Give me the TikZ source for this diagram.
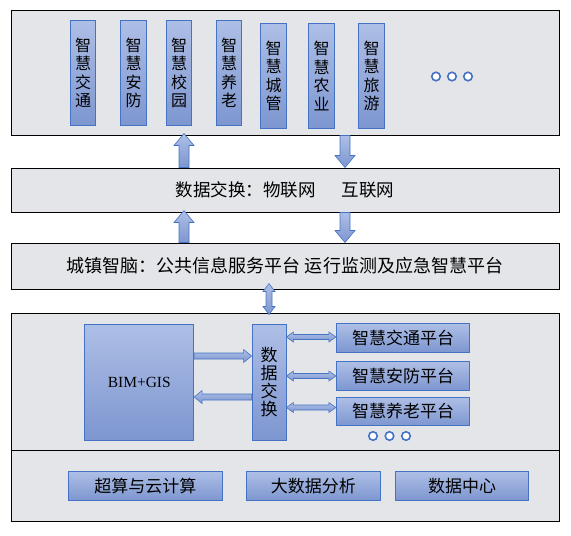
\documentclass[tikz,border=0pt]{standalone}
\usepackage{fontspec}
\setmainfont{Noto Sans CJK SC}
\newfontfamily\bimfont{Liberation Serif}
\usetikzlibrary{calc,positioning}
\definecolor{bluetop}{HTML}{AEBFE6}
\definecolor{bluebot}{HTML}{7D96D0}
\definecolor{blueline}{HTML}{4472C4}
\definecolor{framegray}{HTML}{E3E5E9}

% block arrow: tail, tip, half shaft, half head, head length
\newcommand\blkarrow[5]{%
  \coordinate (at) at (#1);
  \coordinate (bt) at (#2);
  \coordinate (hb) at ($(bt)!#5!(at)$);
  \draw[blkarr] ($(at)!#3!90:(bt)$) -- ($(hb)!#3!90:(bt)$) -- ($(hb)!#4!90:(bt)$)
    -- (bt) -- ($(hb)!#4!-90:(bt)$) -- ($(hb)!#3!-90:(bt)$) -- ($(at)!#3!-90:(bt)$) -- cycle;}
% block arrow with a head at both ends
\newcommand\blkdarrow[5]{%
  \coordinate (at) at (#1);
  \coordinate (bt) at (#2);
  \coordinate (ha) at ($(at)!#5!(bt)$);
  \coordinate (hb) at ($(bt)!#5!(at)$);
  \draw[blkarr] (at) -- ($(ha)!#4!90:(bt)$) -- ($(ha)!#3!90:(bt)$) -- ($(hb)!#3!90:(bt)$)
    -- ($(hb)!#4!90:(bt)$) -- (bt) -- ($(hb)!#4!-90:(bt)$) -- ($(hb)!#3!-90:(bt)$)
    -- ($(ha)!#3!-90:(bt)$) -- ($(ha)!#4!-90:(bt)$) -- cycle;}

\begin{document}
\begin{tikzpicture}[x=1pt, y=-1pt,
  frame/.style={draw=black, line width=1pt, fill=framegray, inner sep=0pt, minimum width=548pt},
  bluebox/.style={draw=blueline, line width=0.8pt, top color=bluetop, bottom color=bluebot, inner sep=0pt},
  appbox/.style={bluebox, minimum width=25.5pt, minimum height=105.5pt, align=center,
    font=\fontsize{16}{18.5}\selectfont},
  platbox/.style={bluebox, minimum width=133.5pt, minimum height=28.5pt, font=\fontsize{17}{20}\selectfont},
  basebox/.style={bluebox, minimum height=29pt, font=\fontsize{17}{20}\selectfont},
  moredot/.style={circle, draw=blueline, line width=1.6pt, fill=white, minimum size=8.5pt, inner sep=0pt},
  blkarr/.style={draw=blueline, line width=0.6pt, top color=bluetop, bottom color=bluebot}]
  \useasboundingbox (0,0) rectangle (571,536);

  % layers
  \node[frame, minimum height=125pt] (apps) at (285,72.5) {};
  \node[frame, minimum height=44pt, font=\fontsize{17.5}{20}\selectfont] (exch) at (285,190)
    {数据交换：物联网\hspace{26pt}互联网};
  \node[frame, minimum height=46pt, font=\fontsize{18}{20}\selectfont] (brain) at (285,266)
    {城镇智脑：公共信息服务平台 运行监测及应急智慧平台};
  \node[frame, minimum height=137pt] (core) at (285,381.5) {};
  \node[frame, minimum height=71pt] (base) at (285,485.5) {};

  % applications
  \node[appbox] (jt) at (83,73) {智\\慧\\交\\通};
  \node[appbox] (af) at (133.5,73) {智\\慧\\安\\防};
  \node[appbox] (xy) at (179,73) {智\\慧\\校\\园};
  \node[appbox] (yl) at (229,73) {智\\慧\\养\\老};
  \node[appbox] (cg) at (273.5,76) {智\\慧\\城\\管};
  \node[appbox] (ny) at (321.5,76) {智\\慧\\农\\业};
  \node[appbox] (ly) at (371.5,76) {智\\慧\\旅\\游};
  \node[moredot] (d1) at (436,76.5) {};
  \node[moredot] (d2) at (452,76.5) {};
  \node[moredot] (d3) at (468,76.5) {};

  % core
  \node[bluebox, minimum width=109pt, minimum height=116pt, font=\bimfont\fontsize{15.5}{18}\selectfont]
    (bim) at (139.25,382) {BIM+GIS};
  \node[bluebox, minimum width=34pt, minimum height=116pt, align=center, font=\fontsize{17}{18}\selectfont]
    (dx) at (269,382) {数\\据\\交\\换};
  \node[platbox] (p1) at (403,338) {智慧交通平台};
  \node[platbox] (p2) at (403,376) {智慧安防平台};
  \node[platbox] (p3) at (403,411.5) {智慧养老平台};
  \node[moredot] (e1) at (373,436) {};
  \node[moredot] (e2) at (389.5,436) {};
  \node[moredot] (e3) at (406,436) {};

  % base
  \node[basebox, minimum width=154pt] (cs) at (145.3,486) {超算与云计算};
  \node[basebox, minimum width=133.5pt] (dsj) at (313.3,486) {大数据分析};
  \node[basebox, minimum width=133pt] (sjzx) at (462,486) {数据中心};

  % arrow columns and rows
  \coordinate (upcol) at (184,0);
  \coordinate (dncol) at (345,0);
  \coordinate (midcol) at (269,0);
  \coordinate (row1) at (0,356);
  \coordinate (row2) at (0,397);

  \blkarrow{exch.north -| upcol}{[yshift=2pt]apps.south -| upcol}{5pt}{10pt}{12pt}
  \blkarrow{apps.south -| dncol}{exch.north -| dncol}{5pt}{10pt}{12pt}
  \blkarrow{brain.north -| upcol}{[yshift=2pt]exch.south -| upcol}{5pt}{10pt}{12pt}
  \blkarrow{exch.south -| dncol}{brain.north -| dncol}{5pt}{10pt}{12pt}
  \blkdarrow{[yshift=6pt]brain.south -| midcol}{[yshift=-2pt]core.north -| midcol}{3pt}{6pt}{8pt}

  \blkarrow{bim.east |- row1}{dx.west |- row1}{3pt}{6.5pt}{8pt}
  \blkarrow{dx.west |- row2}{bim.east |- row2}{3pt}{6.5pt}{8pt}
  \blkdarrow{[yshift=1pt]dx.east |- p1.west}{[yshift=1pt]p1.west}{2.5pt}{5pt}{7pt}
  \blkdarrow{dx.east |- p2.west}{p2.west}{2.5pt}{5pt}{7pt}
  \blkdarrow{[yshift=4pt]dx.east |- p3.west}{[yshift=4pt]p3.west}{2.5pt}{5pt}{7pt}
\end{tikzpicture}
\end{document}
